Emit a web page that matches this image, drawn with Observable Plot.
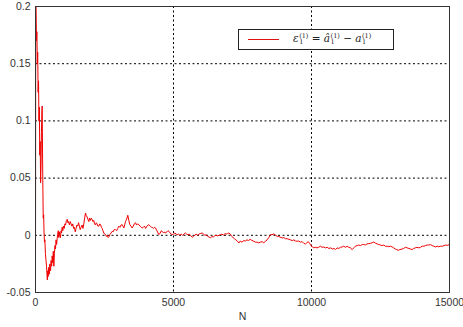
<!DOCTYPE html>
<html>
<head>
<meta charset="utf-8">
<script src="https://cdn.jsdelivr.net/npm/d3@7"></script>
<script src="https://cdn.jsdelivr.net/npm/@observablehq/plot@0.6"></script>
<style>
  body { margin: 0; background: #fff; font-family: "Liberation Sans", Arial, sans-serif; }
  #wrap { position: relative; width: 463px; height: 327px; overflow: hidden; }
  #chart svg { overflow: visible; }
  #legend { position: absolute; left: 238px; top: 29px; width: 156px; height: 21px; box-sizing: border-box;
            border: 1px solid #222; background: #fff; }
  #legend .sw { position: absolute; left: 9px; top: 9px; width: 31px; height: 1px; background: #e01010; }
  #legend .tx { position: absolute; left: 54px; top: 2px; font-family: "DejaVu Serif", serif; font-style: italic; font-size: 10.5px; color: #222; white-space: nowrap; }
  .ss { display: inline-flex; flex-direction: column; vertical-align: middle; font-size: 6.5px; line-height: 6.5px; margin-left: 0.5px; font-style: normal; }
</style>
</head>
<body>
<div id="wrap">
  <div id="chart"></div>
  <div id="legend"><div class="sw"></div><div class="tx">ε<span class="ss"><span>(1)</span><span>1</span></span> = â<span class="ss"><span>(1)</span><span>1</span></span> − a<span class="ss"><span>(1)</span><span>1</span></span></div></div>
</div>
<script>
const xTicks = [0, 5000, 10000, 15000];
const yTicks = [-0.05, 0, 0.05, 0.1, 0.15, 0.2];
const xLabel = "N";

const nValues = [0,8,20,35,50,65,80,95,110,125,140,155,170,185,200,215,230,242,255,268,280,295,310,325,340,360,380,400,415,428,445,460,480,500,520,545,565,585,605,625,645,665,685,705,725,745,765,785,805,825,845,865,885,905,925,945,965,990,1010,1040,1065,1090,1120,1150,1175,1200,1230,1260,1290,1320,1350,1380,1410,1440,1470,1500,1530,1560,1590,1620,1650,1690,1720,1750,1780,1812,1840,1872,1900,1932,1960,1990,2020,2053,2080,2110,2140,2174,2200,2230,2260,2295,2330,2360,2390,2415,2445,2476,2505,2536,2570,2600,2633,2670,2700,2740,2778,2810,2850,2899,2940,2980,3019,3060,3100,3140,3170,3200,3230,3261,3300,3345,3380,3418,3460,3502,3540,3580,3623,3660,3700,3744,3790,3830,3865,3910,3950,3990,4040,4080,4106,4160,4200,4227,4280,4320,4348,4400,4440,4469,4520,4560,4590,4640,4680,4710,4760,4800,4831,4880,4920,4952,5000,5050,5100,5133,5180,5230,5280,5330,5380,5435,5480,5530,5580,5630,5676,5720,5770,5820,5870,5920,5970,6039,6090,6140,6190,6240,6290,6341,6390,6440,6490,6540,6600,6650,6703,6760,6810,6860,6910,6960,7005,7060,7110,7160,7210,7260,7310,7367,7420,7480,7548,7600,7660,7720,7780,7840,7910,7970,8030,8091,8150,8210,8270,8333,8390,8450,8514,8570,8635,8700,8756,8800,8860,8937,9000,9060,9118,9180,9240,9300,9360,9420,9481,9540,9600,9660,9720,9783,9830,9880,9930,9980,10030,10085,10140,10200,10260,10320,10380,10447,10510,10570,10630,10700,10760,10820,10870,10930,10990,11050,11111,11170,11230,11292,11350,11410,11473,11530,11590,11655,11710,11780,11840,11896,11950,12010,12077,12140,12200,12258,12320,12380,12440,12500,12560,12620,12681,12740,12800,12860,12923,12980,13040,13090,13140,13200,13285,13340,13400,13466,13530,13590,13647,13700,13760,13820,13889,13950,14010,14070,14130,14190,14250,14312,14370,14430,14493,14550,14610,14670,14734,14800,14860,14920,15000];

const errValues = [-0.06,0.21,0.195,0.17,0.178,0.15,0.16,0.125,0.135,0.10,0.112,0.07,0.082,0.046,0.06,0.09,0.106,0.113,0.072,0.04,0.015,0.018,0.002,-0.006,-0.004,-0.016,-0.022,-0.027,-0.034,-0.039,-0.031,-0.036,-0.028,-0.034,-0.025,-0.031,-0.022,-0.027,-0.018,-0.024,-0.014,-0.027,-0.016,-0.009,-0.012,-0.004,-0.008,-0.003,0.001,0.004,-0.002,0.003,0.0,-0.002,0.004,0.002,0.007,0.004,0.008,0.006,0.010,0.009,0.013,0.014,0.011,0.012,0.009,0.012,0.010,0.008,0.010,0.006,0.007,0.003,0.006,0.009,0.008,0.011,0.008,0.005,0.007,0.009,0.006,0.010,0.015,0.0195,0.017,0.016,0.014,0.012,0.015,0.013,0.015,0.0137,0.012,0.013,0.010,0.009,0.011,0.010,0.008,0.008,0.010,0.009,0.007,0.006,0.004,0.002,0.001,0.0006,-0.001,0.0,-0.002,-0.001,0.001,0.002,0.0035,0.003,0.005,0.005,0.004,0.006,0.008,0.007,0.009,0.0093,0.008,0.0064,0.009,0.012,0.014,0.0175,0.013,0.0093,0.008,0.0064,0.008,0.010,0.011,0.009,0.010,0.0093,0.008,0.007,0.0064,0.007,0.008,0.006,0.008,0.009,0.0093,0.008,0.007,0.007,0.006,0.007,0.0064,0.004,0.002,0.0006,0.002,0.004,0.0035,0.002,0.003,0.002,0.003,0.004,0.0035,0.002,0.001,0.0006,0.001,0.002,0.001,0.0006,0.001,0.0,0.001,0.0,0.001,0.002,0.001,0.0005,0.001,-0.0005,-0.0017,-0.001,0.0,0.001,0.0,0.001,0.0015,0.002,0.001,0.0,0.0005,-0.001,-0.0015,-0.0023,-0.001,-0.0015,-0.0005,0.0,-0.0005,0.0,0.0006,0.001,0.0,0.0015,0.001,0.0015,0.002,0.001,-0.001,-0.002,-0.003,-0.004,-0.005,-0.0067,-0.005,-0.006,-0.0046,-0.005,-0.004,-0.0045,-0.0035,-0.0045,-0.0052,-0.006,-0.006,-0.0067,-0.006,-0.0055,-0.0065,-0.0052,-0.004,-0.002,0.0006,0.0005,0.0012,0.0,-0.0009,-0.001,-0.0015,-0.0023,-0.002,-0.003,-0.003,-0.0035,-0.004,-0.0046,-0.004,-0.005,-0.0052,-0.005,-0.006,-0.0055,-0.007,-0.0076,-0.0065,-0.0055,-0.007,-0.009,-0.010,-0.011,-0.0105,-0.011,-0.0105,-0.0095,-0.0105,-0.0102,-0.011,-0.0105,-0.0115,-0.011,-0.012,-0.0115,-0.0125,-0.011,-0.0115,-0.0105,-0.0102,-0.0095,-0.0105,-0.0096,-0.0105,-0.011,-0.0125,-0.011,-0.0095,-0.009,-0.0085,-0.009,-0.008,-0.0081,-0.0085,-0.0075,-0.0073,-0.007,-0.0065,-0.0058,-0.007,-0.0075,-0.0081,-0.0085,-0.009,-0.0085,-0.0096,-0.0095,-0.010,-0.0095,-0.0102,-0.011,-0.012,-0.0125,-0.0131,-0.0125,-0.012,-0.0115,-0.0105,-0.011,-0.0115,-0.012,-0.0125,-0.0115,-0.011,-0.0105,-0.011,-0.0105,-0.0095,-0.0096,-0.009,-0.0085,-0.0085,-0.0081,-0.009,-0.0095,-0.0102,-0.0095,-0.010,-0.0095,-0.0096,-0.009,-0.0085,-0.0088,-0.0081];

const data = nValues.map((n, i) => ({n, e: errValues[i]}));

const chart = Plot.plot({
  width: 463,
  height: 327,
  marginLeft: 35,
  marginRight: 14,
  marginTop: 6,
  marginBottom: 35,
  style: {fontFamily: "'Liberation Sans', Arial, sans-serif", fontSize: "10.5px", color: "#333", background: "#fff", overflow: "visible"},
  x: {domain: [0, 15000], ticks: xTicks},
  y: {domain: [-0.05, 0.2], ticks: yTicks},
  marks: [
    Plot.gridX(xTicks.slice(1, -1), {stroke: "#000", strokeOpacity: 1, strokeDasharray: "2,2.5"}),
    Plot.gridY(yTicks.slice(1, -1), {stroke: "#000", strokeOpacity: 1, strokeDasharray: "2,2.5"}),
    Plot.line(data, {x: "n", y: "e", stroke: "#f00000", strokeWidth: 1, clip: true}),
    Plot.frame({stroke: "#333", strokeWidth: 1}),
    Plot.axisX({ticks: xTicks, tickSize: 0, tickPadding: 6, tickFormat: d => String(d), label: xLabel, labelAnchor: "center", labelArrow: "none", labelOffset: 27}),
    Plot.axisY({ticks: yTicks, tickSize: 0, tickPadding: 5, tickFormat: d => String(d), label: null})
  ]
});
document.getElementById("chart").appendChild(chart);
</script>
</body>
</html>
